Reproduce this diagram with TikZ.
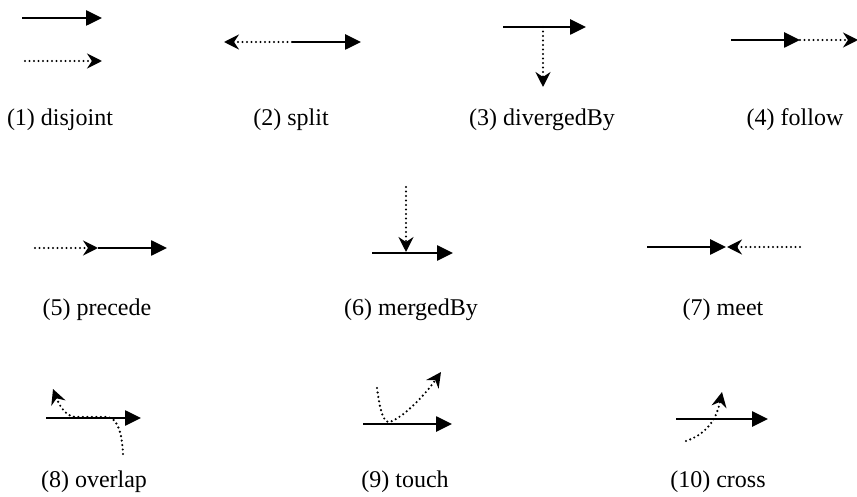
\documentclass[tikz,border=0pt]{standalone}
\usepackage{fontspec}
\setmainfont{Liberation Serif}
\usetikzlibrary{arrows.meta}
\begin{document}
\begin{tikzpicture}[x=1pt,y=-1pt,
  solidln/.style={line width=2.6pt, -{Triangle[length=16pt,width=15pt]}},
  dotln/.style={line width=2.4pt, line cap=round, dash pattern=on 0pt off 4.5pt, -{Stealth[length=15pt,width=15pt,inset=5pt]}},
  lbl/.style={font=\fontsize{24}{28}\selectfont, anchor=base, inner sep=0pt}]
\useasboundingbox (0,0) rectangle (857,497);
% (1) disjoint
\coordinate (a1) at (22,18); \coordinate (b1) at (102,18);
\coordinate (c1) at (25,61); \coordinate (d1) at (102,61);
\draw[solidln] (a1) -- (b1);
\draw[dotln] (c1) -- (d1);
\node[lbl] (l1) at (60,126) {(1) disjoint};
% (2) split
\coordinate (m2) at (292,42); \coordinate (a2) at (224,42); \coordinate (b2) at (361,42);
\draw[dotln] (m2) -- (a2);
\draw[solidln] (m2) -- (b2);
\node[lbl] (l2) at (291,126) {(2) split};
% (3) divergedBy
\coordinate (a3) at (503,27); \coordinate (b3) at (586,27);
\coordinate (m3) at (543,27); \coordinate (d3) at (543,87);
\draw[solidln] (a3) -- (b3);
\draw[dotln] (m3) -- (d3);
\node[lbl] (l3) at (542,126) {(3) divergedBy};
% (4) follow
\coordinate (a4) at (731,40); \coordinate (b4) at (800,40); \coordinate (c4) at (858,40);
\draw[solidln] (a4) -- (b4);
\draw[dotln] (b4) -- (c4);
\node[lbl] (l4) at (795,126) {(4) follow};
% (5) precede
\coordinate (a5) at (35,248); \coordinate (b5) at (98,248); \coordinate (c5) at (167,248);
\draw[dotln] (a5) -- (b5);
\draw[solidln] (b5) -- (c5);
\node[lbl] (l5) at (97,316) {(5) precede};
% (6) mergedBy
\coordinate (a6) at (372,253); \coordinate (b6) at (453,253);
\coordinate (c6) at (406,187); \coordinate (d6) at (406,252);
\draw[solidln] (a6) -- (b6);
\draw[dotln] (c6) -- (d6);
\node[lbl] (l6) at (411,316) {(6) mergedBy};
% (7) meet
\coordinate (a7) at (647,247); \coordinate (b7) at (726,247);
\coordinate (c7) at (800,247); \coordinate (d7) at (727,247);
\draw[solidln] (a7) -- (b7);
\draw[dotln] (c7) -- (d7);
\node[lbl] (l7) at (723,316) {(7) meet};
% (8) overlap
\coordinate (a8) at (46,418); \coordinate (b8) at (141,418);
\coordinate (s8) at (123,454); \coordinate (p8) at (106,417); \coordinate (q8) at (75,417); \coordinate (t8) at (53,389);
\draw[solidln] (a8) -- (b8);
\draw[dotln] (s8) .. controls (122,434) and (118,417) .. (p8) -- (q8) .. controls (64,416) and (58,402) .. (t8);
\node[lbl] (l8) at (94,487) {(8) overlap};
% (9) touch
\coordinate (a9) at (363,424); \coordinate (b9) at (452,424);
\coordinate (s9) at (377,388); \coordinate (p9) at (389,422); \coordinate (t9) at (441,372);
\draw[solidln] (a9) -- (b9);
\draw[dotln] (s9) .. controls (380,410) and (383,422) .. (p9) .. controls (402,419) and (425,395) .. (t9);
\node[lbl] (l9) at (405,487) {(9) touch};
% (10) cross
\coordinate (a10) at (676,419); \coordinate (b10) at (768,419);
\coordinate (s10) at (686,441); \coordinate (t10) at (722,392);
\draw[solidln] (a10) -- (b10);
\draw[dotln] (s10) .. controls (704,435) and (716,422) .. (t10);
\node[lbl] (l10) at (718,487) {(10) cross};
\end{tikzpicture}
\end{document}
